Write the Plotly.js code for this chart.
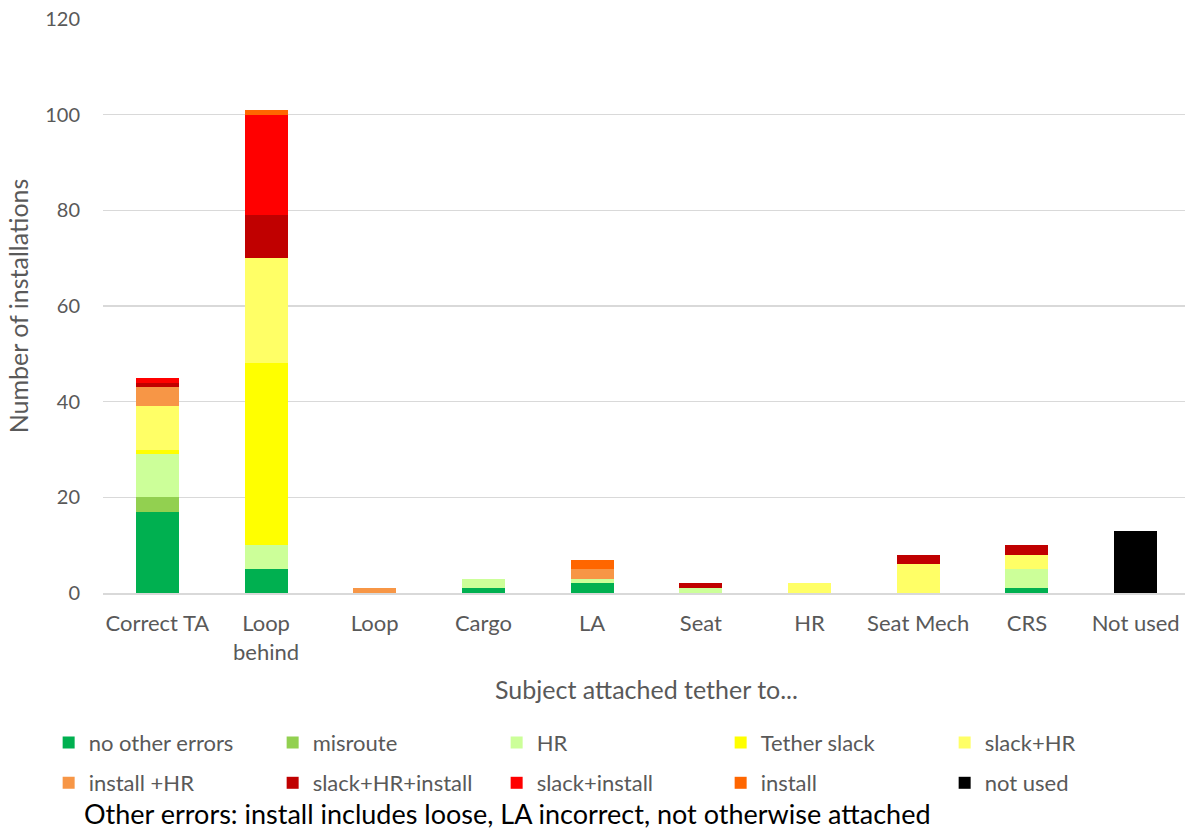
<!DOCTYPE html>
<html>
<head>
<meta charset="utf-8">
<script src="https://cdn.plot.ly/plotly-3.0.1.min.js"></script>
<style>
  html, body { margin: 0; padding: 0; overflow: hidden; background: #ffffff; }
  #chart { width: 1190px; height: 830px; }
</style>
</head>
<body>
<div id="chart"></div>
<script>
// Where the tether was attached, one bar per location
const categories = ['Correct TA', 'Loop<br>behind', 'Loop', 'Cargo', 'LA', 'Seat', 'HR', 'Seat Mech', 'CRS', 'Not used'];

// Installations in each error group, stacked bottom to top
const noOtherErrors   = [17, 5, 0, 1, 2, 0, 0, 0, 1, 0];
const misroute        = [3, 0, 0, 0, 0, 0, 0, 0, 0, 0];
const hr              = [9, 5, 0, 2, 1, 1, 0, 0, 4, 0];
const tetherSlack     = [1, 38, 0, 0, 0, 0, 0, 0, 0, 0];
const slackHr         = [9, 22, 0, 0, 0, 0, 2, 6, 3, 0];
const installHr       = [4, 0, 1, 0, 2, 0, 0, 0, 0, 0];
const slackHrInstall  = [1, 9, 0, 0, 0, 1, 0, 2, 2, 0];
const slackInstall    = [1, 21, 0, 0, 0, 0, 0, 0, 0, 0];
const install         = [0, 1, 0, 0, 2, 0, 0, 0, 0, 0];
const notUsed         = [0, 0, 0, 0, 0, 0, 0, 0, 0, 13];

const seriesNames = ['no other errors', 'misroute', 'HR', 'Tether slack', 'slack+HR',
                     'install +HR', 'slack+HR+install', 'slack+install', 'install', 'not used'];
const seriesValues = [noOtherErrors, misroute, hr, tetherSlack, slackHr,
                      installHr, slackHrInstall, slackInstall, install, notUsed];
const seriesColors = ['#00B050', '#92D050', '#CCFF99', '#FFFF00', '#FFFF66',
                      '#F79646', '#C00000', '#FF0000', '#FF6600', '#000000'];

const textGrey = '#595959';
const fontFamily = 'Lato, "Open Sans", sans-serif';

// First five series go in the upper legend row, the rest in the lower one
const traces = seriesNames.map((name, i) => ({
  type: 'bar',
  name: name,
  x: categories,
  y: seriesValues[i],
  marker: { color: seriesColors[i], line: { width: 0 } },
  legend: i < 5 ? 'legend' : 'legend2',
  hoverinfo: 'name+y'
}));

const legendBase = {
  orientation: 'h',
  xref: 'paper',
  yref: 'paper',
  x: -0.05,
  xanchor: 'left',
  yanchor: 'middle',
  entrywidth: 179,
  entrywidthmode: 'pixels',
  traceorder: 'normal',
  font: { family: fontFamily, size: 22, color: textGrey },
  bgcolor: 'rgba(0,0,0,0)'
};

const layout = {
  width: 1190,
  height: 830,
  margin: { l: 103, r: 0, t: 19, b: 237 },
  paper_bgcolor: '#ffffff',
  plot_bgcolor: '#ffffff',
  barmode: 'stack',
  bargap: 0.604,
  font: { family: fontFamily, size: 22, color: textGrey },
  xaxis: {
    type: 'category',
    showgrid: false,
    showline: true,
    linecolor: '#d9d9d9',
    linewidth: 1.5,
    ticks: '',
    ticklabelstandoff: 10,
    tickfont: { family: fontFamily, size: 22, color: textGrey },
    title: {
      text: 'Subject attached tether to...',
      font: { family: fontFamily, size: 25, color: textGrey },
      standoff: 18
    }
  },
  yaxis: {
    range: [0, 120],
    dtick: 20,
    showgrid: true,
    gridcolor: '#d9d9d9',
    gridwidth: 1.5,
    zeroline: false,
    showline: false,
    ticks: '',
    ticklabelstandoff: 22,
    tickfont: { family: fontFamily, size: 20, color: textGrey },
    title: {
      text: 'Number of installations',
      font: { family: fontFamily, size: 25, color: textGrey },
      standoff: 9
    }
  },
  showlegend: true,
  legend: Object.assign({}, legendBase, { y: -0.261 }),
  legend2: Object.assign({}, legendBase, { y: -0.331 }),
  annotations: [{
    xref: 'paper',
    yref: 'paper',
    x: -0.0195,
    y: -0.385,
    xanchor: 'left',
    yanchor: 'middle',
    showarrow: false,
    text: 'Other errors: install includes loose, LA incorrect, not otherwise attached',
    font: { family: fontFamily, size: 27, color: '#000000' }
  }]
};

Plotly.newPlot('chart', traces, layout, { displayModeBar: false, staticPlot: true });
</script>
</body>
</html>
